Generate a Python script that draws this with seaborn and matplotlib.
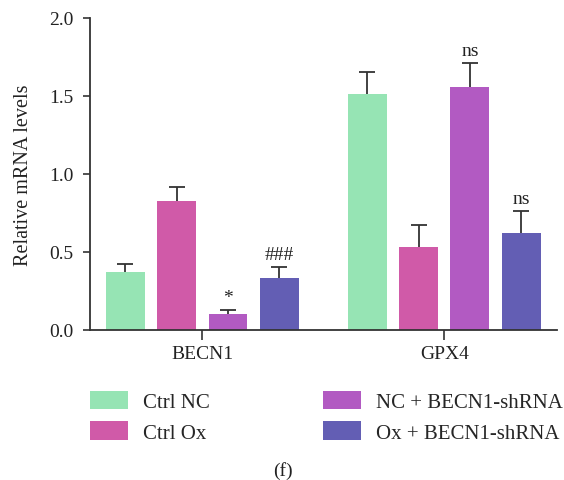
import seaborn as sns
import matplotlib.pyplot as plt
import pandas as pd

# Relative mRNA levels per gene and group
genes = ["BECN1", "GPX4"]
groups = ["Ctrl NC", "Ctrl Ox", "NC + BECN1-shRNA", "Ox + BECN1-shRNA"]
means = {
    "BECN1": [0.372, 0.827, 0.103, 0.333],
    "GPX4": [1.513, 0.532, 1.558, 0.622],
}
errors = {
    "BECN1": [0.051, 0.090, 0.025, 0.071],
    "GPX4": [0.141, 0.141, 0.154, 0.141],
}
marks = {
    "BECN1": ["", "", "*", "###"],
    "GPX4": ["", "", "ns", "ns"],
}
colors = ["#96e4b4", "#d05aa8", "#b25ac2", "#635eb4"]

rows = []
for g in genes:
    for i, grp in enumerate(groups):
        rows.append({"gene": g, "group": grp, "value": means[g][i],
                     "err": errors[g][i], "mark": marks[g][i]})
df = pd.DataFrame(rows)

sns.set_style("ticks")
plt.rcParams['font.family'] = ['Liberation Serif', 'DejaVu Serif']

fig = plt.figure(figsize=(5.64, 4.81), dpi=100)
ax = fig.add_axes([0.16, 0.312, 0.828, 0.6485])

sns.barplot(data=df, x="gene", y="value", hue="group", order=genes,
            hue_order=groups, palette=colors, width=0.85, gap=0.243,
            saturation=1, errorbar=None, ax=ax, legend=True)
for p in ax.patches:
    p.set_edgecolor("none")

# error bars (upward only) and significance marks
for j, grp in enumerate(groups):
    cont = ax.containers[j]
    for k, bar in enumerate(cont):
        sub = df[(df.group == grp) & (df.gene == genes[k])].iloc[0]
        xc = bar.get_x() + bar.get_width() / 2
        h = bar.get_height()
        _, caps, _ = ax.errorbar(xc, h, yerr=[[0], [sub.err]], fmt="none",
                                 ecolor="#333333", elinewidth=1.3,
                                 capsize=6, capthick=1.3)
        caps[0].set_visible(False)
        if sub.mark:
            ax.text(xc, h + sub.err + 0.025, sub.mark, ha="center",
                    va="bottom", fontsize=14, color="#222222")

ax.set_xlim(-0.463, 1.467)
ax.set_ylim(0, 2.0)
ax.set_yticks([0, 0.5, 1.0, 1.5, 2.0])
ax.set_yticklabels(["0.0", "0.5", "1.0", "1.5", "2.0"])
ax.set_xlabel("")
ax.set_ylabel("Relative mRNA levels", fontsize=14.5, color="#222222",
              labelpad=12)
ax.tick_params(axis="y", labelsize=14, length=5, width=1.2, colors="#333333",
               labelcolor="#222222", pad=7)
ax.tick_params(axis="x", labelsize=14, length=7, width=1.2, colors="#333333",
               labelcolor="#222222", pad=4)
sns.despine(ax=ax)
for s in ["left", "bottom"]:
    ax.spines[s].set_color("#333333")
    ax.spines[s].set_linewidth(1.3)

handles, labels = ax.get_legend_handles_labels()
ax.get_legend().remove()
fig.legend(handles, labels, ncol=2, frameon=False, loc="upper left",
           bbox_to_anchor=(0.16, 0.186), fontsize=15,
           handlelength=1.83, handleheight=1.0, columnspacing=5.4,
           labelspacing=0.45, handletextpad=0.72, borderaxespad=0,
           borderpad=0)

fig.text(0.502, 0.003, "(f)", ha="center", va="bottom", fontsize=14,
         color="#222222")

fig.savefig("out.png", dpi=100)
